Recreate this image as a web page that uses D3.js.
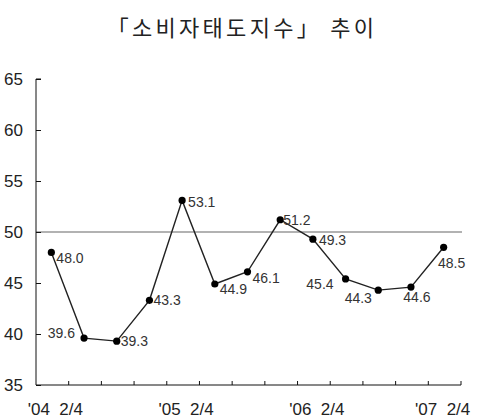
<!DOCTYPE html>
<html>
<head>
<meta charset="utf-8">
<script src="https://cdn.jsdelivr.net/npm/d3@7"></script>
<style>
  html, body { margin: 0; padding: 0; background: #fff; }
  svg { display: block; }
</style>
</head>
<body>
<svg id="chart" width="480" height="420"></svg>
<script>
// ---- data ----
const title = "「소비자태도지수」 추이";
const quarters = ["'04 2/4","'04 3/4","'04 4/4","'05 1/4","'05 2/4","'05 3/4","'05 4/4",
                  "'06 1/4","'06 2/4","'06 3/4","'06 4/4","'07 1/4","'07 2/4"];
const values = [48.0, 39.6, 39.3, 43.3, 53.1, 44.9, 46.1, 51.2, 49.3, 45.4, 44.3, 44.6, 48.5];
const xTickLabels = ["'04 2/4", "'05 2/4", "'06 2/4", "'07 2/4"];
const yTicks = [35, 40, 45, 50, 55, 60, 65];
const referenceLine = 50;

// ---- layout (label placement relative to each point) ----
const labelPlace = [
  ["start", 5, 11], ["end", -9, 0], ["start", 4, 5], ["start", 4, 5], ["start", 6, 7],
  ["start", 5, 10], ["start", 5, 11], ["start", 3, 5], ["start", 6, 6], ["end", -12, 10],
  ["middle", -20, 13], ["middle", 6, 15], ["middle", 8, 21]
];

(function () {
const svg = d3.select("#chart");
const mLeft = 36, mRight = 461, mTop = 79, mBottom = 385;

const x = d3.scaleBand().domain(quarters).range([mLeft, mRight]);
const y = d3.scaleLinear().domain([35, 65]).range([mBottom, mTop]);

// title
svg.append("text")
  .attr("x", 242).attr("y", 36)
  .attr("text-anchor", "middle")
  .style("font-family", "'Noto Sans CJK KR', sans-serif")
  .style("font-size", "22px")
  .style("letter-spacing", "3.3px")
  .style("white-space", "pre")
  .attr("fill", "#222")
  .text(title);

// reference line at 50
svg.append("line")
  .attr("x1", mLeft).attr("x2", mRight + 1)
  .attr("y1", y(referenceLine)).attr("y2", y(referenceLine))
  .attr("stroke", "#999").attr("stroke-width", 1.5);

// y axis
const yAxis = d3.axisRight(y).tickValues(yTicks).tickSize(5).tickFormat(d3.format("d"));
const gy = svg.append("g").attr("transform", `translate(${mLeft},0)`).call(yAxis);
gy.select(".domain").attr("d", `M5,${mTop}H0V${mBottom}`).attr("stroke", "#111");
gy.selectAll(".tick line").attr("stroke", "#111");
gy.selectAll(".tick text")
  .attr("x", -13).attr("dy", "0.35em")
  .attr("text-anchor", "end")
  .style("font-family", "'Liberation Sans', Arial, sans-serif")
  .style("font-size", "17px")
  .attr("fill", "#222");

// x axis: ticks at band boundaries
const boundaries = quarters.map(q => x(q)).concat([mRight]);
const gx = svg.append("g");
gx.append("line").attr("x1", mLeft).attr("x2", mRight).attr("y1", mBottom).attr("y2", mBottom)
  .attr("stroke", "#111");
gx.selectAll("line.tk").data(boundaries.slice(1)).join("line").attr("class", "tk")
  .attr("x1", d => d).attr("x2", d => d)
  .attr("y1", mBottom).attr("y2", mBottom - 4)
  .attr("stroke", "#111");
gx.selectAll("text").data(xTickLabels).join("text")
  .attr("x", d => x(d) + x.bandwidth() / 2 + (d === "'07 2/4" ? -2 : 3))
  .attr("y", 415)
  .attr("text-anchor", "middle")
  .style("font-family", "'Liberation Sans', Arial, sans-serif")
  .style("font-size", "17px")
  .style("white-space", "pre")
  .attr("fill", "#222")
  .text(d => d.replace(" ", "  "));

// line
const cx = (d, i) => x(quarters[i]) + x.bandwidth() / 2 - 1;
const line = d3.line().x((d, i) => cx(d, i)).y(d => y(d));
svg.append("path").datum(values)
  .attr("d", line)
  .attr("fill", "none")
  .attr("stroke", "#222")
  .attr("stroke-width", 1.4);

// points
svg.selectAll("circle.pt").data(values).join("circle").attr("class", "pt")
  .attr("cx", (d, i) => cx(d, i))
  .attr("cy", d => y(d))
  .attr("r", 3.6)
  .attr("fill", "#000");

// value labels
svg.selectAll("text.val").data(values).join("text").attr("class", "val")
  .attr("x", (d, i) => cx(d, i) + labelPlace[i][1])
  .attr("y", (d, i) => y(d) + labelPlace[i][2])
  .attr("text-anchor", (d, i) => labelPlace[i][0])
  .style("font-family", "'Liberation Sans', Arial, sans-serif")
  .style("font-size", "14px")
  .attr("fill", "#333")
  .text(d => d.toFixed(1));
})();
</script>
</body>
</html>
